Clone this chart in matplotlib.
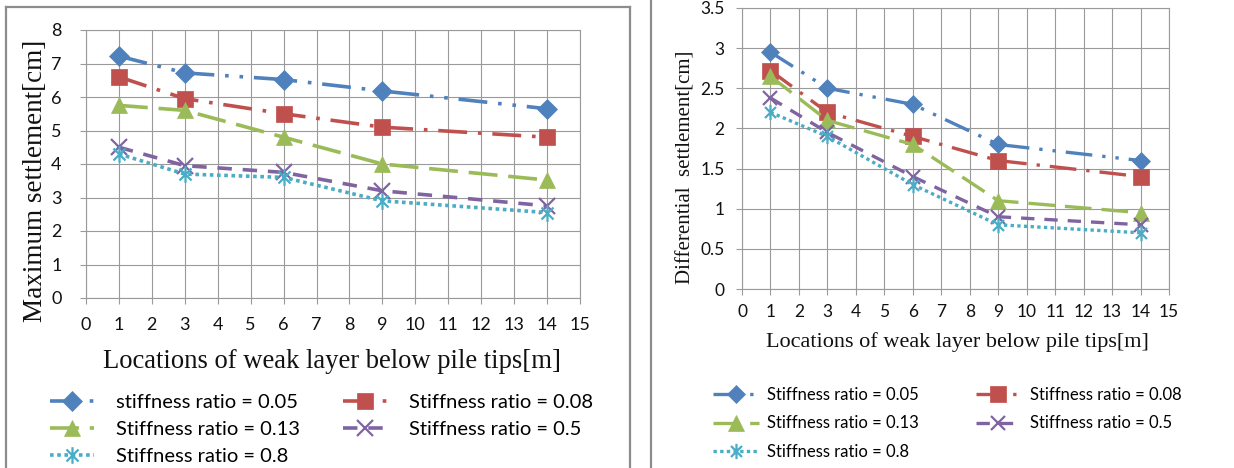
import matplotlib
matplotlib.use("Agg")
import matplotlib.pyplot as plt
from matplotlib.path import Path
from matplotlib.lines import Line2D

# ---- data ----
locations = [1, 3, 6, 9, 14]
labels_max = ["stiffness ratio = 0.05", "Stiffness ratio = 0.08", "Stiffness ratio = 0.13",
              "Stiffness ratio = 0.5", "Stiffness ratio = 0.8"]
labels_diff = ["Stiffness ratio = 0.05", "Stiffness ratio = 0.08", "Stiffness ratio = 0.13",
               "Stiffness ratio = 0.5", "Stiffness ratio = 0.8"]

max_s005 = [7.22, 6.72, 6.52, 6.18, 5.65]
max_s008 = [6.60, 5.95, 5.50, 5.10, 4.80]
max_s013 = [5.75, 5.60, 4.80, 4.00, 3.52]
max_s05 = [4.50, 3.95, 3.75, 3.20, 2.75]
max_s08 = [4.30, 3.70, 3.60, 2.90, 2.55]

diff_s005 = [2.95, 2.50, 2.30, 1.80, 1.60]
diff_s008 = [2.72, 2.20, 1.90, 1.60, 1.40]
diff_s013 = [2.65, 2.10, 1.80, 1.10, 0.95]
diff_s05 = [2.38, 1.95, 1.40, 0.90, 0.80]
diff_s08 = [2.20, 1.90, 1.30, 0.80, 0.70]

# ---- styling ----
W, H = 1234, 468
colors = ["#4F81BD", "#C0504D", "#9BBB59", "#8064A2", "#4BACC6"]
dashes = [(0, (8, 3, 1, 3, 1, 3)), (0, (8, 3, 1, 3)), (0, (8, 3)), (0, (4, 3)), (0, (1, 1))]
asterisk = Path([(0, -1), (0, 1), (-0.72, -0.72), (0.72, 0.72), (-0.72, 0.72), (0.72, -0.72)],
                [Path.MOVETO, Path.LINETO, Path.MOVETO, Path.LINETO, Path.MOVETO, Path.LINETO])
markers = ["D", "s", "^", "x", asterisk]
GRID = "#9a9a9a"
SANS = ["Lato", "DejaVu Sans"]
SERIF = ["Liberation Serif", "DejaVu Serif"]

fig = plt.figure(figsize=(W / 100, H / 100), dpi=100)


def px_axes(x0, y0, x1, y1):
    """Axes placed by pixel box (top-left origin)."""
    return fig.add_axes([x0 / W, 1 - y1 / H, (x1 - x0) / W, (y1 - y0) / H])


def style_axes(ax, ymax, ystep, tickfont, ticksize, xpad, ypad):
    ax.set_xlim(0, 15)
    ax.set_ylim(0, ymax)
    ax.set_xticks(range(0, 16))
    yt = [i * ystep for i in range(int(round(ymax / ystep)) + 1)]
    ax.set_yticks(yt)
    ax.set_yticklabels([("%g" % v) for v in yt])
    ax.grid(True, color=GRID, lw=0.8)
    ax.set_axisbelow(True)
    for s in ax.spines.values():
        s.set_color(GRID)
        s.set_linewidth(0.8)
    ax.tick_params(axis="x", direction="out", length=4.5, color=GRID, width=0.8, pad=xpad)
    ax.tick_params(axis="y", direction="out", length=4.5, color=GRID, width=0.8, pad=ypad)
    for lab in ax.get_xticklabels() + ax.get_yticklabels():
        lab.set_family(tickfont)
        lab.set_fontsize(ticksize)
        lab.set_color("#111111")


def draw_series(ax, series, labels, msizes, lw):
    handles = []
    for vals, c, ls, m, ms, lab in zip(series, colors, dashes, markers, msizes, labels):
        thin = (m == "x") or (m is asterisk)
        h, = ax.plot(locations, vals, color=c, linestyle=ls, lw=lw, marker=m, markersize=ms,
                     markerfacecolor=c, markeredgecolor=c, markeredgewidth=1.6 if thin else 0.5,
                     label=lab, clip_on=False)
        handles.append(h)
    return handles


def row_major(items):
    # two-column legend read across rows: 1 2 / 3 4 / 5
    return [items[0], items[2], items[4], items[1], items[3]]


# ---- left panel: maximum settlement ----
axL = px_axes(86, 30, 580, 298)
hL = draw_series(axL, [max_s005, max_s008, max_s013, max_s05, max_s08], labels_max,
                 [10, 12, 12, 11, 12], 2.6)
style_axes(axL, 8, 1, SANS, 13, 9, 13)
axL.set_xlabel("Locations of weak layer below pile tips[m]", family=SERIF, fontsize=19.2,
               color="#111111")
axL.xaxis.set_label_coords((332 - 86) / (580 - 86), -(349 - 298) / (298 - 30))
axL.set_ylabel("Maximum settlement[cm]", family=SERIF, fontsize=19.5, color="#111111")
axL.yaxis.set_label_coords(-(86 - 48) / (580 - 86), (298 - 181) / (298 - 30))
fig.legend(handles=row_major(hL), loc="upper left", bbox_to_anchor=(50 / W, 1 - 394 / H), ncol=2,
           frameon=False, prop={"family": SANS, "size": 14.5}, handlelength=2.2,
           handletextpad=1.1, columnspacing=2.1, labelspacing=0.5, borderaxespad=0,
           borderpad=0)

# ---- right panel: differential settlement ----
axR = px_axes(742, 8, 1169, 289)
hR = draw_series(axR, [diff_s005, diff_s008, diff_s013, diff_s05, diff_s08], labels_diff,
                 [9, 11, 11, 10, 11], 2.4)
style_axes(axR, 3.5, 0.5, SANS, 12.5, 6, 8)
axR.set_xlabel("Locations of weak layer below pile tips[m]", family=SERIF, fontsize=16,
               color="#111111")
axR.xaxis.set_label_coords((957 - 742) / (1169 - 742), -(332 - 289) / (289 - 8))
axR.set_ylabel("Differential  settlement[cm]", family=SERIF, fontsize=15, color="#111111")
axR.yaxis.set_label_coords(-(742 - 696) / (1169 - 742), (289 - 167) / (289 - 8))
fig.legend(handles=row_major(hR), loc="upper left", bbox_to_anchor=(713 / W, 1 - 387 / H), ncol=2,
           frameon=False, prop={"family": SANS, "size": 12}, handlelength=2.75,
           handletextpad=0.5, columnspacing=3.4, labelspacing=0.74, borderaxespad=0,
           borderpad=0)

# ---- panel frames ----
frame = dict(color="#8c8c8c", lw=1.6, transform=fig.transFigure, clip_on=False)
fig.add_artist(Line2D([5.5 / W, 5.5 / W], [0, 1 - 6.5 / H], **frame))
fig.add_artist(Line2D([5.5 / W, 630 / W], [1 - 6.5 / H, 1 - 6.5 / H], **frame))
fig.add_artist(Line2D([630 / W, 630 / W], [0, 1 - 6.5 / H], **frame))
fig.add_artist(Line2D([651 / W, 651 / W], [0, 1], **frame))

fig.savefig("out.png", dpi=100, facecolor="white")
